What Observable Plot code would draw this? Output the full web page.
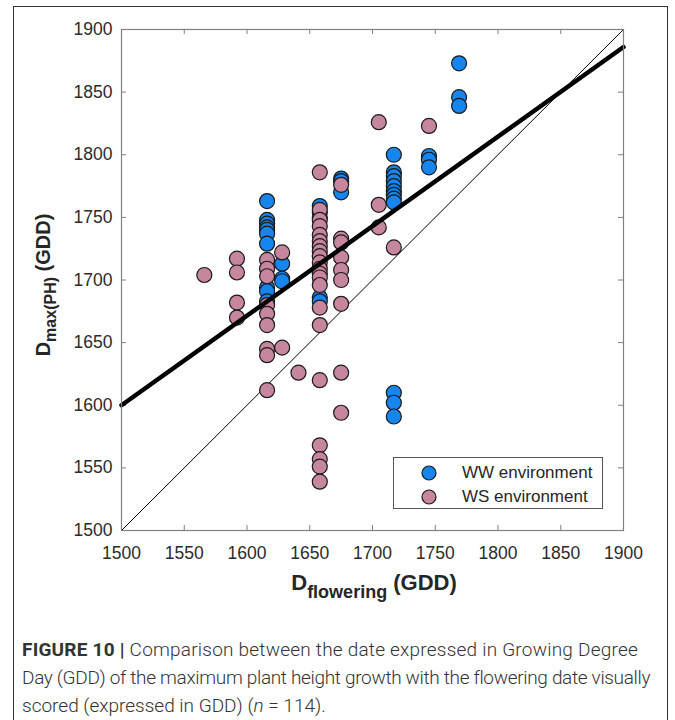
<!DOCTYPE html>
<html>
<head>
<meta charset="utf-8">
<script src="https://cdn.jsdelivr.net/npm/d3@7"></script>
<script src="https://cdn.jsdelivr.net/npm/@observablehq/plot@0.6"></script>
<style>
  html, body { margin: 0; padding: 0; background: #fff; }
  #page { position: relative; width: 675px; height: 720px; overflow: hidden; font-family: "Liberation Sans", Arial, Helvetica, sans-serif; }
  #frame { position: absolute; left: 13px; top: 6px; width: 655px; height: 760px; border: 1px solid #333; box-sizing: border-box; }
  #chart { position: absolute; left: 0; top: 0; }
  #legend { position: absolute; left: 393px; top: 457px; width: 210px; height: 52px; border: 1px solid #555; background: #fff; box-sizing: border-box; }
  .lg-row { position: absolute; left: 0; height: 20px; display: flex; align-items: center; font-size: 17px; color: #262626; }
  .lg-row svg { margin-left: 27px; margin-right: 25px; }
  #caption { position: absolute; left: 22px; top: 636px; font-family: Roboto, "Liberation Sans", sans-serif; font-weight: 300; font-size: 19px; line-height: 28px; color: #333; }
  #caption .ln { white-space: nowrap; display: block; }
  #caption .ln span.inner { display: inline-block; }
  #caption b { font-weight: 700; }
</style>
</head>
<body>
<div id="page">
  <div id="frame"></div>
  <div id="chart"></div>
  <div id="legend"></div>
  <div id="caption"></div>
</div>
<script>
// ---- data (GDD) ----
const wwFlowering = [
  1616,1616,1616,1616,1616,1616,1616,1616,1616,1616,
  1628,1628,1628,
  1658,1658,1658,1658,1658,
  1675,1675,1675,
  1717,1717,1717,1717,1717,1717,1717,1717,1717,1717,1717,1717,
  1745,1745,1745,
  1769,1769,1769
];
const wwMaxPH = [
  1763,1748,1745,1742,1740,1737,1729,1694,1691,1683,
  1713,1701,1699,
  1759,1754,1750,1686,1683,
  1781,1779,1770,
  1800,1786,1783,1779,1775,1771,1768,1765,1762,1610,1602,1591,
  1799,1796,1790,
  1873,1846,1839
];
const wsFlowering = [
  1566,
  1592,1592,1592,1592,
  1616,1616,1616,1616,1616,1616,1616,1616,1616,
  1628,1628,
  1641,
  1658,1658,1658,1658,1658,1658,1658,1658,1658,1658,1658,1658,1658,1658,1658,1658,1658,1658,1658,1658,1658,
  1675,1675,1675,1675,1675,1675,1675,1675,1675,
  1705,1705,1705,
  1717,
  1745
];
const wsMaxPH = [
  1704,
  1717,1706,1682,1670,
  1716,1709,1703,1680,1673,1664,1645,1640,1612,
  1722,1646,
  1626,
  1786,1756,1748,1743,1736,1731,1727,1723,1719,1714,1709,1705,1702,1696,1678,1664,1620,1568,1557,1551,1539,
  1776,1733,1730,1718,1708,1700,1681,1626,1594,
  1826,1760,1742,
  1726,
  1823
];
const series = ["WW environment", "WS environment"];
const colors = ["#1685ee", "#c7869f"];
const xTicks = [1500,1550,1600,1650,1700,1750,1800,1850,1900];
const yTicks = [1500,1550,1600,1650,1700,1750,1800,1850,1900];
const axisDomain = [1500, 1900];
const fitIntercept = 527.5;   // regression: Dmax = 527.5 + 0.715 * Dflowering
const fitSlope = 0.715;

// ---- build tables ----
const ww = wwFlowering.map((x, i) => ({x, y: wwMaxPH[i], s: series[0]}));
const ws = wsFlowering.map((x, i) => ({x, y: wsMaxPH[i], s: series[1]}));
const fitLine = axisDomain.map(x => ({x, y: fitIntercept + fitSlope * x}));
const oneToOne = axisDomain.map(v => ({x: v, y: v}));

const W = 675, H = 610, mL = 121, mR = 52, mT = 29, mB = 80;
const innerW = W - mL - mR, innerH = H - mT - mB;
const axisColor = "#808080";
const tickLen = 5;

const plot = Plot.plot({
  width: W, height: H,
  marginLeft: mL, marginRight: mR, marginTop: mT, marginBottom: mB,
  style: {fontFamily: '"Liberation Sans", Arial, Helvetica, sans-serif', fontSize: "17.5px", color: "#2b2b2b", background: "transparent"},
  x: {domain: axisDomain, label: null},
  y: {domain: axisDomain, label: null},
  color: {domain: series, range: colors},
  marks: [
    Plot.axisX({ticks: xTicks, tickSize: 0, tickPadding: 16, tickFormat: d => String(d), fontSize: 17.5, label: null}),
    Plot.axisY({ticks: yTicks, tickSize: 0, tickPadding: 9, tickFormat: d => String(d), fontSize: 17.5, label: null}),
    Plot.tickX(xTicks, {x: d => d, stroke: axisColor, insetTop: innerH - tickLen}),
    Plot.tickX(xTicks, {x: d => d, stroke: axisColor, insetBottom: innerH - tickLen}),
    Plot.tickY(yTicks, {y: d => d, stroke: axisColor, insetRight: innerW - tickLen}),
    Plot.tickY(yTicks, {y: d => d, stroke: axisColor, insetLeft: innerW - tickLen}),
    Plot.line(oneToOne, {x: "x", y: "y", stroke: "#000", strokeWidth: 1}),
    Plot.dot(ww, {x: "x", y: "y", fill: "s", r: 7.5, stroke: "#1a1a1a", strokeWidth: 1.2}),
    Plot.dot(ws, {x: "x", y: "y", fill: "s", r: 7.5, stroke: "#1a1a1a", strokeWidth: 1.2}),
    Plot.line(fitLine, {x: "x", y: "y", stroke: "#000", strokeWidth: 4.5}),
    Plot.frame({stroke: axisColor, strokeWidth: 1.2})
  ]
});
document.getElementById("chart").appendChild(plot);

// axis titles with subscripts
const svg = d3.select(plot);
const yl = svg.append("text")
  .attr("transform", "translate(50,285) rotate(-90)")
  .attr("text-anchor", "middle")
  .attr("font-weight", "bold").attr("font-size", 20).attr("fill", "#262626");
yl.append("tspan").text("D");
yl.append("tspan").attr("font-size", 16).attr("dy", 6).text("max(PH)");
yl.append("tspan").attr("dy", -6).text(" (GDD)");

const xl = svg.append("text")
  .attr("transform", "translate(374,590)")
  .attr("text-anchor", "middle")
  .attr("font-weight", "bold").attr("font-size", 22).attr("fill", "#262626");
xl.append("tspan").text("D");
xl.append("tspan").attr("font-size", 18).attr("dy", 8).text("flowering");
xl.append("tspan").attr("dy", -8).text(" (GDD)");

// legend
const legend = document.getElementById("legend");
series.forEach((name, i) => {
  const row = document.createElement("div");
  row.className = "lg-row";
  row.style.top = (5 + i * 24) + "px";
  row.innerHTML = `<svg width="16" height="16"><circle cx="8" cy="8" r="7" fill="${colors[i]}" stroke="#1a1a1a" stroke-width="1.2"/></svg><span>${name}</span>`;
  legend.appendChild(row);
});

// caption: the first two lines are set close to the width they have in the figure
const captionLines = [
  {html: "<b>FIGURE 10 |</b> Comparison between the date expressed in Growing Degree", width: 616},
  {html: "Day (GDD) of the maximum plant height growth with the flowering date visually", width: 628},
  {html: "scored (expressed in GDD) (<i>n</i> = 114).", width: null}
];
const cap = document.getElementById("caption");
captionLines.forEach(l => {
  const div = document.createElement("div");
  div.className = "ln";
  const inner = document.createElement("span");
  inner.className = "inner";
  inner.innerHTML = l.html;
  div.appendChild(inner);
  cap.appendChild(div);
  if (l.width == null) return;
  const natural = inner.getBoundingClientRect().width;
  const text = inner.textContent;
  const chars = text.length;
  const spaces = (text.match(/ /g) || []).length;
  let ls = (l.width - natural) / chars;
  ls = Math.max(-0.6, Math.min(0.3, ls));
  const rest = l.width - natural - ls * chars;
  const wsp = spaces ? rest / spaces : 0;
  inner.style.letterSpacing = ls.toFixed(3) + "px";
  inner.style.wordSpacing = wsp.toFixed(3) + "px";
});
</script>
</body>
</html>
